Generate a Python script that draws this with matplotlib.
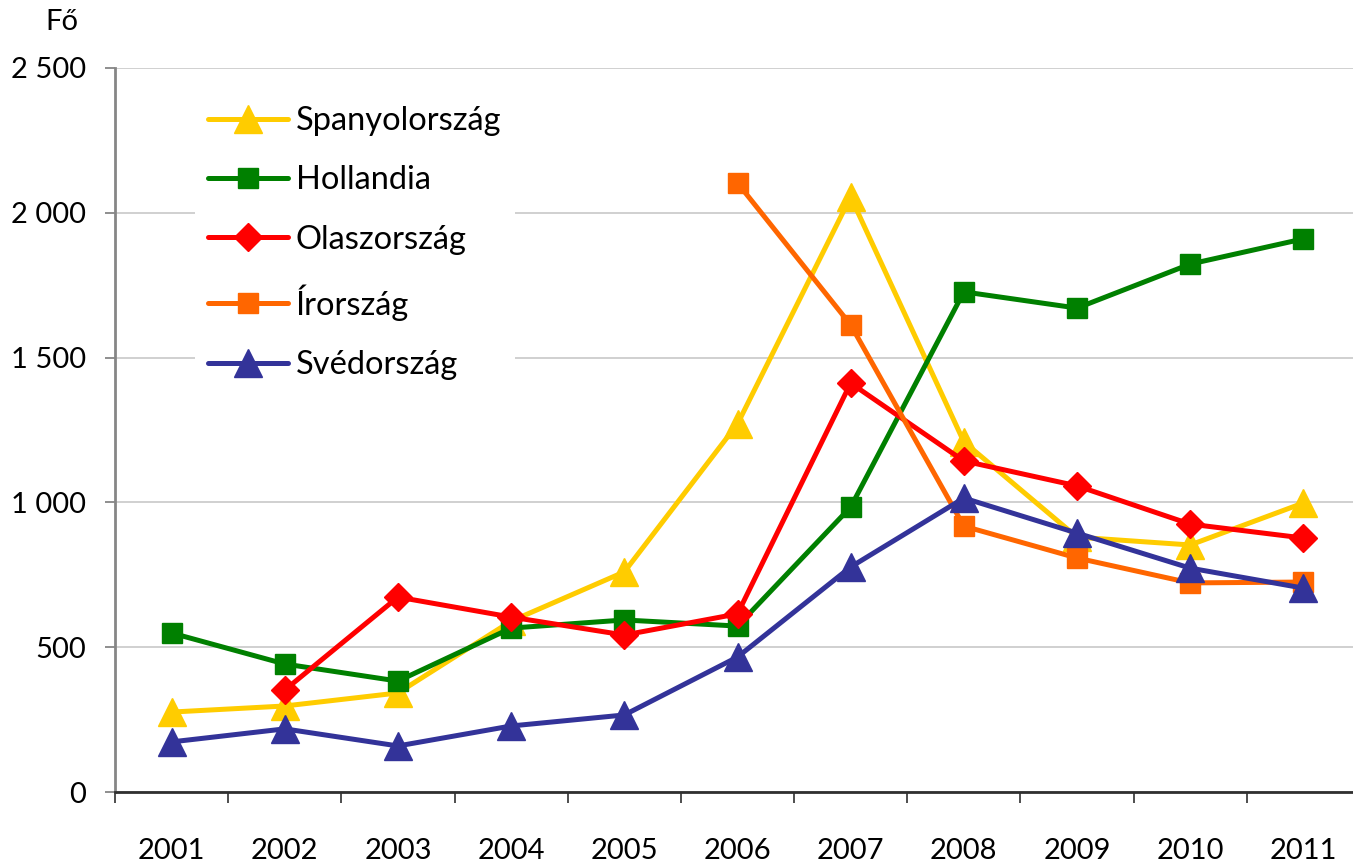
import numpy as np
import matplotlib.pyplot as plt
from matplotlib.ticker import FuncFormatter, FixedLocator

plt.rcParams['font.family'] = ['Lato', 'DejaVu Sans']

years = ['2001', '2002', '2003', '2004', '2005', '2006', '2007', '2008', '2009', '2010', '2011']

spanyol  = [276, 297, 342, 590, 760, 1271, 2055, 1209, 880, 853, 998]
holland  = [549, 442, 383, 566, 594, 573, 984, 1727, 1671, 1823, 1910]
olasz    = [None, 352, 673, 604, 542, 615, 1412, 1143, 1057, 925, 877]
ir       = [None, None, None, None, None, 2103, 1613, 918, 808, 722, 725]
sved     = [173, 218, 159, 228, 266, 466, 777, 1015, 894, 773, 704]

series = [
	('Spanyolország', spanyol, '#FFCC00', '^', 20),
	('Hollandia', holland, '#008000', 's', 15),
	('Olaszország', olasz, '#FF0000', 'D', 14),
	('Írország', ir, '#FF6600', 's', 15),
	('Svédország', sved, '#333399', '^', 20),
]


def space_thousands(v, pos):
	return f'{int(v):,}'.replace(',', ' ')


fig = plt.figure(figsize=(13.53, 8.63), dpi=100)
ax = fig.add_axes([115 / 1353, 1 - 792 / 863, 1245 / 1353, 724 / 863])

x = np.arange(len(years))
for name, vals, color, marker, ms in series:
	y = np.array([np.nan if v is None else v for v in vals], dtype=float)
	ax.plot(x, y, color=color, linewidth=3.6, marker=marker, markersize=ms,
		markerfacecolor=color, markeredgecolor=color, markeredgewidth=1,
		label=name, solid_capstyle='round', clip_on=False)

ax.set_xlim(-0.5, len(years) - 0.5)
ax.set_ylim(0, 2500)
ax.set_yticks([0, 500, 1000, 1500, 2000, 2500])
ax.yaxis.set_major_formatter(FuncFormatter(space_thousands))
ax.grid(axis='y', color='#C8C8C8', linewidth=1.2)
ax.set_axisbelow(True)

# category boundaries as major ticks, labels on minor ticks
ax.xaxis.set_major_locator(FixedLocator(np.arange(-0.5, len(years), 1.0)))
ax.xaxis.set_minor_locator(FixedLocator(x))
ax.set_xticklabels([])
ax.set_xticklabels(years, minor=True)
ax.tick_params(axis='x', which='major', length=8, width=1.3, color='#404040', direction='out')
ax.tick_params(axis='x', which='minor', length=0, pad=33, labelsize=21)
ax.tick_params(axis='y', length=7, width=1.3, color='#868686', pad=14, labelsize=21)

for s in ['top', 'right']:
	ax.spines[s].set_visible(False)
ax.spines['left'].set_color('#868686')
ax.spines['left'].set_linewidth(2)
ax.spines['bottom'].set_color('#303030')
ax.spines['bottom'].set_linewidth(2)

fig.text(62 / 1353, 1 - 22 / 863, 'Fő', fontsize=21, ha='center', va='center')

leg = ax.legend(loc='upper left', bbox_to_anchor=(0.051, 0.988), fontsize=23.5,
	handlelength=2.45, handletextpad=0.25, labelspacing=0.9, borderpad=0.4,
	frameon=True, fancybox=False, framealpha=1)
leg.get_frame().set_facecolor('white')
leg.get_frame().set_edgecolor('none')

fig.savefig('out.png', dpi=100)
